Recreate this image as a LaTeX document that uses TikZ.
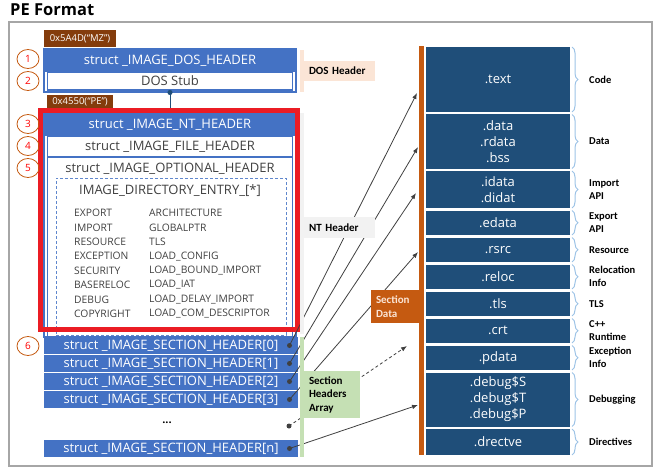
\documentclass[tikz,border=0pt]{standalone}
\usepackage{fontspec}
\setmainfont{Open Sans}
\newfontfamily\labelfont{Carlito}
\usepackage{tikz}
\usetikzlibrary{arrows.meta,positioning,shapes.geometric,decorations.pathreplacing}
\definecolor{hdrBlue}{RGB}{68,114,196}
\definecolor{secBlue}{RGB}{31,78,121}
\definecolor{tagBrown}{RGB}{132,60,12}
\definecolor{barOrange}{RGB}{197,90,17}
\definecolor{ringOrange}{RGB}{197,90,17}
\definecolor{alertRed}{RGB}{235,28,36}
\definecolor{peachPanel}{RGB}{251,229,214}
\definecolor{greyPanel}{RGB}{242,242,242}
\definecolor{stripGreen}{RGB}{197,224,180}
\definecolor{braceBlue}{RGB}{157,195,230}
\definecolor{darkInk}{RGB}{64,64,64}
\definecolor{linkInk}{RGB}{64,64,64}
\definecolor{frameGray}{RGB}{166,166,166}
\tikzset{
  hdrband/.style={fill=hdrBlue, text=white, inner sep=0pt, outer sep=0pt, minimum width=252pt, minimum height=23pt, font=\fontsize{13}{15}\selectfont},
  inbox/.style={draw=hdrBlue, line width=1.1pt, fill=white, text=darkInk, inner sep=0pt, outer sep=0pt, minimum width=244.6pt, font=\fontsize{13}{15}\selectfont},
  outline/.style={draw=hdrBlue, line width=1.1pt, inner sep=0pt, outer sep=0pt},
  dirbox/.style={draw=hdrBlue!85, line width=0.8pt, dash pattern=on 3pt off 2pt, inner sep=0pt, outer sep=0pt},
  tag/.style={fill=tagBrown, text=white, inner sep=0pt, outer sep=0pt, anchor=north west, font=\fontsize{9.5}{11}\selectfont},
  numring/.style={ellipse, draw=ringOrange, line width=0.8pt, text=red, inner sep=0pt, minimum width=22pt, minimum height=19pt, font=\fontsize{10}{12}\selectfont},
  plaintext/.style={inner sep=0pt, text=darkInk, font=\fontsize{13}{15}\selectfont},
  dirtext/.style={anchor=west, inner sep=0pt, text=darkInk, font=\fontsize{10.3}{12}\selectfont},
  sechdr/.style={fill=hdrBlue, text=white, inner sep=0pt, outer sep=0pt, minimum width=254pt, minimum height=17pt, font=\fontsize{13}{15}\selectfont},
  hdrdot/.style={circle, fill=darkInk, inner sep=0pt, outer sep=0pt, minimum size=5pt},
  strip/.style={inner sep=0pt, outer sep=0pt, minimum width=4pt, anchor=north west},
  lblbox/.style={anchor=north west, inner xsep=5pt, inner ysep=0pt, outer sep=0pt, align=left, font=\labelfont\bfseries\fontsize{11}{13.5}\selectfont},
  datablk/.style={fill=secBlue, text=white, inner sep=0pt, outer sep=0pt, minimum width=144pt, align=center, font=\fontsize{13}{16}\selectfont},
  secbrace/.style={decorate, decoration={brace, amplitude=6pt}, draw=braceBlue, line width=1pt},
  bracelbl/.style={inner sep=0pt, align=left, font=\labelfont\bfseries\fontsize{10.5}{13}\selectfont},
  stublink/.style={{Circle[length=5pt]}-, draw=secBlue, line width=1pt},
  link/.style={-{Latex[length=6pt,width=4.5pt]}, draw=linkInk, line width=0.8pt}
}
\begin{document}
\begin{tikzpicture}[x=1pt, y=-1pt]
        \useasboundingbox (0,0) rectangle (660,473);
        \node[anchor=west, inner sep=0pt, font=\bfseries\fontsize{16.5}{19}\selectfont] (title) at (10,10) {PE Format};
        \node[draw=frameGray, line width=1.2pt, inner sep=0pt, outer sep=0pt, minimum width=643pt, minimum height=444pt, anchor=north west] (frame) at (9,22) {};
        \node[tag, minimum width=72pt, minimum height=17pt] (mztag) at (44,30) {0x5A4D(“MZ”)};
        \node[outline, minimum width=252pt, minimum height=43pt, anchor=north west] (dosbox) at (44,49) {};
        \node[hdrband, anchor=north west] (dosband) at (44,49) {struct \_IMAGE\_DOS\_HEADER};
        \node[inbox, minimum height=18pt, below=0pt of dosband] (stub) {DOS Stub};
        \node[tag, minimum width=66pt, minimum height=13pt] (petag) at (47,95) {0x4550(“PE”)};
        \node[outline, minimum width=252pt, minimum height=224pt, anchor=north west] (ntbox) at (44,113) {};
        \node[hdrband, anchor=north west] (ntband) at (44,113) {struct \_IMAGE\_NT\_HEADER};
        \node[inbox, minimum height=20pt, below=0.5pt of ntband] (filehdr) {struct \_IMAGE\_FILE\_HEADER};
        \node[outline, minimum width=244.6pt, minimum height=180pt, below=1pt of filehdr] (optbox) {};
        \node[plaintext, below=5pt of optbox.north] (opttitle) {struct \_IMAGE\_OPTIONAL\_HEADER};
        \node[dirbox, minimum width=230pt, minimum height=157pt, anchor=north west] (dirbox) at (56,178) {};
        \node[plaintext] (dirtitle) at (170,191) {IMAGE\_DIRECTORY\_ENTRY\_[*]};
        \foreach \lft/\rgt [count=\i from 0] in {EXPORT/ARCHITECTURE, IMPORT/GLOBALPTR, RESOURCE/TLS, EXCEPTION/LOAD\_CONFIG, SECURITY/LOAD\_BOUND\_IMPORT, BASERELOC/LOAD\_IAT, DEBUG/LOAD\_DELAY\_IMPORT, COPYRIGHT/LOAD\_COM\_DESCRIPTOR} {
          \node[dirtext] (dl\i) at (74,213+14.4*\i) {\lft};
          \node[dirtext] (dr\i) at (149,213+14.4*\i) {\rgt};
        }
        \draw[stublink] (stub.south) -- (ntband.north);
        \node[draw=alertRed, line width=5pt, inner sep=0pt, outer sep=0pt, minimum width=257pt, minimum height=219pt, anchor=north west] (ntframe) at (40.5,110.5) {};
        \node[sechdr, anchor=north west] (sh0) at (44,337) {struct \_IMAGE\_SECTION\_HEADER[0]};
        \node[sechdr, below=1pt of sh0] (sh1) {struct \_IMAGE\_SECTION\_HEADER[1]};
        \node[sechdr, below=1pt of sh1] (sh2) {struct \_IMAGE\_SECTION\_HEADER[2]};
        \node[sechdr, below=1pt of sh2] (sh3) {struct \_IMAGE\_SECTION\_HEADER[3]};
        \node[inner sep=0pt, font=\bfseries\fontsize{11}{13}\selectfont] (shgap) at (167,423) {...};
        \node[sechdr, anchor=north west] (shn) at (44,440) {struct \_IMAGE\_SECTION\_HEADER[n]};
        \foreach \n/\y in {1/59, 2/81, 3/124, 4/146, 5/168, 6/346}
          \node[numring] (ring\n) at (28,\y) {\n};
        \foreach \s in {sh0, sh1, sh2, sh3, shn}
          \node[hdrdot, left=6pt of \s.east] (dot-\s) {};
        \node[hdrdot] (dot-gap) at (289,426) {};
        \node[datablk, minimum height=65pt, anchor=north west] (txt) at (426,47) {.text};
        \node[datablk, minimum height=54pt, below=2.5pt of txt] (dat) {.data\\.rdata\\.bss};
        \node[datablk, minimum height=37pt, below=2.5pt of dat] (idat) {.idata\\.didat};
        \node[datablk, minimum height=24.5pt, below=2.5pt of idat] (edat) {.edata};
        \node[datablk, minimum height=24.5pt, below=2.5pt of edat] (rsrc) {.rsrc};
        \node[datablk, minimum height=24.5pt, below=2.5pt of rsrc] (reloc) {.reloc};
        \node[datablk, minimum height=24.5pt, below=2.5pt of reloc] (tls) {.tls};
        \node[datablk, minimum height=24.5pt, below=2.5pt of tls] (crt) {.crt};
        \node[datablk, minimum height=24.5pt, below=2.5pt of crt] (pdat) {.pdata};
        \node[datablk, minimum height=54pt, below=2.5pt of pdat] (dbg) {.debug\$S\\.debug\$T\\.debug\$P};
        \node[datablk, minimum height=26pt, below=2.5pt of dbg] (drect) {.drectve};
        \foreach \blk/\lbl in {txt/Code, dat/Data, idat/Import\\API, edat/Export\\API, rsrc/Resource, reloc/Relocation\\Info, tls/TLS, crt/C++\\Runtime, pdat/Exception\\Info, dbg/Debugging, drect/Directives} {
          \draw[secbrace] ([xshift=2pt]\blk.north east) -- ([xshift=2pt]\blk.south east);
          \node[bracelbl, right=19pt of \blk.east] (lbl-\blk) {\lbl};
        }
        \node[strip, fill=barOrange, minimum width=5pt, minimum height=409pt] (databar) at (419,46) {};
        \coordinate (hit0) at (417,93);
        \coordinate (hit1) at (418,147);
        \coordinate (hit2) at (416,193);
        \coordinate (hit3) at (418,252);
        \coordinate (hitgap) at (407,346);
        \coordinate (hitn) at (418,405);
        \draw[link] (dot-sh0.center) -- (hit0);
        \draw[link] (dot-sh1.center) -- (hit1);
        \draw[link] (dot-sh2.center) -- (hit2);
        \draw[link] (dot-sh3.center) -- (hit3);
        \draw[link, dash pattern=on 3pt off 2.5pt] (dot-gap.center) -- (hitgap);
        \draw[link] (dot-shn.center) -- (hitn);
        \node[strip, fill=peachPanel, minimum height=42pt] (dosstrip) at (300,50) {};
        \node[lblbox, fill=peachPanel, text width=61pt, minimum height=20pt] (doslbl) at (304,61) {DOS Header};
        \node[strip, fill=greyPanel, minimum height=221pt] (ntstrip) at (300,113) {};
        \node[lblbox, fill=greyPanel, text width=61pt, minimum height=21pt] (ntlbl) at (304,217) {NT Header};
        \node[strip, fill=stripGreen, minimum height=120pt] (shstrip) at (300,337) {};
        \node[lblbox, fill=stripGreen, text width=46pt, minimum height=47pt] (shlbl) at (304,371) {Section\\Headers\\Array};
        \node[lblbox, fill=barOrange, text=peachPanel, text width=38pt, minimum height=33pt] (datalbl) at (371,290) {Section\\Data};
      \end{tikzpicture}
\end{document}
